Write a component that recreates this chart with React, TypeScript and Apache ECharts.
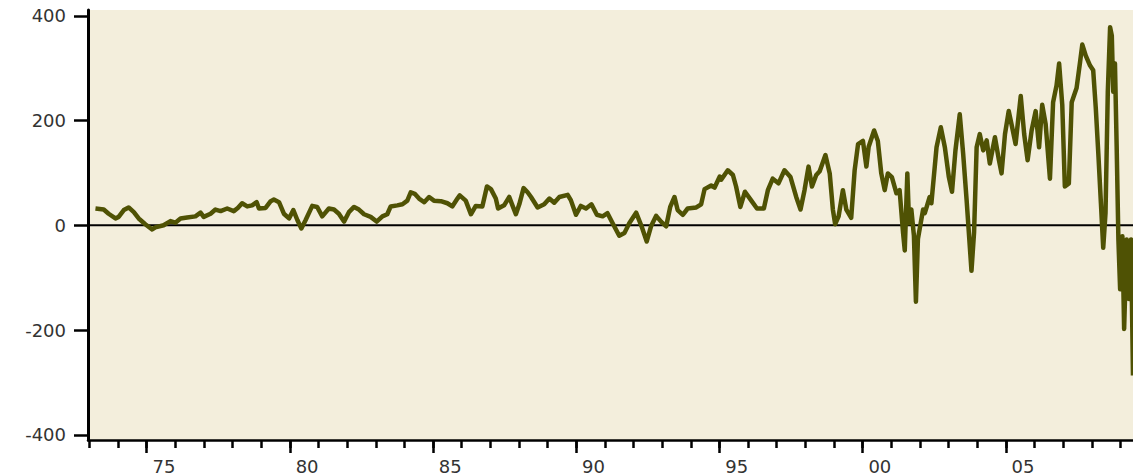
import React, { useEffect, useRef } from "react";
import * as echarts from "echarts";

const years = [
  1973.21, 1973.5, 1973.67, 1973.91, 1974.02, 1974.2, 1974.37, 1974.55, 1974.72, 1974.95,
  1975.19, 1975.3, 1975.59, 1975.83, 1976.0, 1976.18, 1976.41, 1976.7, 1976.88, 1976.99,
  1977.23, 1977.4, 1977.58, 1977.81, 1978.04, 1978.18, 1978.33, 1978.51, 1978.68, 1978.84,
  1978.92, 1979.15, 1979.33, 1979.44, 1979.62, 1979.79, 1979.97, 1980.12, 1980.26, 1980.4,
  1980.55, 1980.78, 1980.95, 1981.13, 1981.36, 1981.54, 1981.71, 1981.89, 1982.06, 1982.24,
  1982.41, 1982.59, 1982.82, 1983.03, 1983.23, 1983.4, 1983.52, 1983.75, 1983.93, 1984.1,
  1984.22, 1984.36, 1984.51, 1984.69, 1984.86, 1985.03, 1985.27, 1985.5, 1985.67, 1985.85,
  1985.93, 1986.14, 1986.32, 1986.49, 1986.72, 1986.88, 1987.02, 1987.19, 1987.27, 1987.48,
  1987.66, 1987.77, 1987.89, 1988.01, 1988.16, 1988.3, 1988.42, 1988.65, 1988.88, 1989.06,
  1989.23, 1989.41, 1989.7, 1989.81, 1989.99, 1990.16, 1990.34, 1990.53, 1990.72, 1990.92,
  1991.09, 1991.27, 1991.5, 1991.68, 1991.85, 1992.09, 1992.28, 1992.46, 1992.61, 1992.79,
  1992.96, 1993.14, 1993.28, 1993.43, 1993.54, 1993.72, 1993.89, 1994.19, 1994.36, 1994.48,
  1994.71, 1994.83, 1995.01, 1995.06, 1995.29, 1995.47, 1995.58, 1995.73, 1995.89, 1996.1,
  1996.31, 1996.55, 1996.69, 1996.86, 1997.06, 1997.27, 1997.48, 1997.68, 1997.83, 1997.97,
  1998.11, 1998.23, 1998.38, 1998.5, 1998.7, 1998.85, 1998.96, 1999.04, 1999.16, 1999.31,
  1999.43, 1999.6, 1999.72, 1999.84, 2000.01, 2000.13, 2000.21, 2000.4, 2000.53, 2000.65,
  2000.77, 2000.88, 2001.02, 2001.18, 2001.29, 2001.41, 2001.47, 2001.56, 2001.62, 2001.7,
  2001.79, 2001.86, 2001.93, 2002.11, 2002.17, 2002.34, 2002.4, 2002.58, 2002.73, 2002.87,
  2003.01, 2003.12, 2003.24, 2003.39, 2003.51, 2003.63, 2003.8, 2003.89, 2003.98, 2004.09,
  2004.21, 2004.33, 2004.44, 2004.62, 2004.76, 2004.85, 2004.97, 2005.1, 2005.22, 2005.34,
  2005.52, 2005.64, 2005.76, 2005.9, 2006.04, 2006.16, 2006.27, 2006.39, 2006.54, 2006.65,
  2006.77, 2006.86, 2006.97, 2007.06, 2007.2, 2007.3, 2007.47, 2007.59, 2007.67, 2007.79,
  2007.94, 2008.05, 2008.14, 2008.23, 2008.32, 2008.4, 2008.48, 2008.56, 2008.64, 2008.7,
  2008.75, 2008.81, 2008.87, 2008.93, 2008.99, 2009.07, 2009.13, 2009.22, 2009.3, 2009.37,
  2009.44,
];

const values = [
  32, 30, 22, 13, 16, 29, 34, 25, 13, 2,
  -8, -4, 0, 8, 5, 13, 15, 17, 24, 16,
  22, 30, 27, 32, 27, 33, 42, 36, 38, 44,
  32, 33, 46, 49, 44, 22, 13, 29, 10, -6,
  10, 37, 35, 17, 32, 30, 22, 7, 25, 35,
  30, 21, 16, 7, 17, 21, 36, 38, 40, 47,
  63, 60, 51, 44, 54, 47, 46, 42, 36, 51,
  57, 47, 21, 37, 36, 74, 69, 51, 32, 38,
  54, 38, 21, 40, 71, 63, 54, 34, 40, 51,
  43, 54, 58, 48, 20, 37, 32, 40, 20, 17,
  23, 4, -20, -15, 4, 24, -2, -31, -2, 18,
  7, -2, 35, 54, 29, 20, 32, 34, 40, 69,
  76, 72, 93, 87, 105, 96, 74, 35, 64, 48,
  32, 32, 67, 89, 80, 105, 92, 54, 30, 67,
  112, 74, 96, 103, 134, 99, 30, 2, 17, 67,
  30, 14, 105, 155, 161, 112, 150, 181, 161, 99,
  67, 99, 92, 61, 67, -14, -48, 99, 4, 30,
  -20, -146, -26, 30, 23, 54, 42, 149, 187, 149,
  92, 64, 143, 212, 136, 48, -87, -14, 149, 174,
  143, 162, 118, 168, 124, 99, 174, 218, 187, 155,
  247, 174, 124, 181, 218, 149, 230, 193, 89, 235,
  267, 309, 230, 74, 80, 235, 262, 311, 345, 324,
  305, 296, 224, 136, 42, -43, 23, 255, 378, 362,
  255, 309, 149, -27, -122, -21, -198, -27, -141, -27,
  -287,
];

const yTicks = [-400, -200, 0, 200, 400];
const majorYears = [1975, 1980, 1985, 1990, 1995, 2000, 2005];
const minorYears = [
  1973, 1974, 1975, 1976, 1977, 1978, 1979, 1980, 1981, 1982, 1983, 1984, 1985,
  1986, 1987, 1988, 1989, 1990, 1991, 1992, 1993, 1994, 1995, 1996, 1997, 1998,
  1999, 2000, 2001, 2002, 2003, 2004, 2005, 2006, 2007, 2008, 2009,
];

const X_MIN = 1972.95;
const X_MAX = 2009.44;
const Y_MIN = -410;
const Y_MAX = 411;

export default function App() {
  const ref = useRef<HTMLDivElement>(null);

  useEffect(() => {
    if (!ref.current) return;
    const chart = echarts.init(ref.current, null, { renderer: "svg" });
    const labelFont = {
      fontSize: 18,
      fontFamily: "DejaVu Sans",
      color: "#333333",
    };
    chart.setOption({
      animation: false,
      grid: {
        left: 88,
        right: 0,
        top: 10,
        bottom: 30,
        show: true,
        backgroundColor: "#f3eedc",
        borderWidth: 0,
      },
      xAxis: [
        {
          type: "value",
          min: X_MIN,
          max: X_MAX,
          position: "bottom",
          axisLine: { show: true, onZero: false, lineStyle: { color: "#000", width: 2.5 } },
          axisTick: {
            show: true,
            customValues: majorYears,
            length: 13,
            lineStyle: { color: "#000", width: 2.5 },
          },
          axisLabel: {
            show: true,
            customValues: majorYears.map((y) => y + 0.6),
            formatter: (v: number) => String(Math.floor(v) % 100).padStart(2, "0"),
            margin: 17,
            ...labelFont,
          },
          splitLine: { show: false },
        },
        {
          type: "value",
          min: X_MIN,
          max: X_MAX,
          position: "bottom",
          axisLine: { show: false, onZero: false },
          axisTick: {
            show: true,
            customValues: minorYears,
            length: 8,
            lineStyle: { color: "#000", width: 2.5 },
          },
          axisLabel: { show: false },
          splitLine: { show: false },
        },
      ],
      yAxis: {
        type: "value",
        min: Y_MIN,
        max: Y_MAX,
        axisLine: { show: true, onZero: false, lineStyle: { color: "#000", width: 3 } },
        axisTick: {
          show: true,
          customValues: yTicks,
          length: 14,
          lineStyle: { color: "#000", width: 2.5 },
        },
        axisLabel: {
          show: true,
          customValues: yTicks,
          margin: 22,
          ...labelFont,
        },
        splitLine: { show: false },
      },
      series: [
        {
          type: "line",
          xAxisIndex: 0,
          data: [
            [X_MIN, 0],
            [X_MAX, 0],
          ],
          symbol: "none",
          silent: true,
          lineStyle: { color: "#000", width: 2 },
        },
        {
          type: "line",
          xAxisIndex: 0,
          data: years.map((y, i) => [y, values[i]]),
          symbol: "none",
          silent: true,
          lineStyle: { color: "#4f5204", width: 4.5, join: "round" },
        },
      ],
    });
    return () => chart.dispose();
  }, []);

  return (
    <div
      ref={ref}
      style={{ position: "fixed", left: 0, top: 0, width: 1133, height: 475, background: "#fff" }}
    />
  );
}
